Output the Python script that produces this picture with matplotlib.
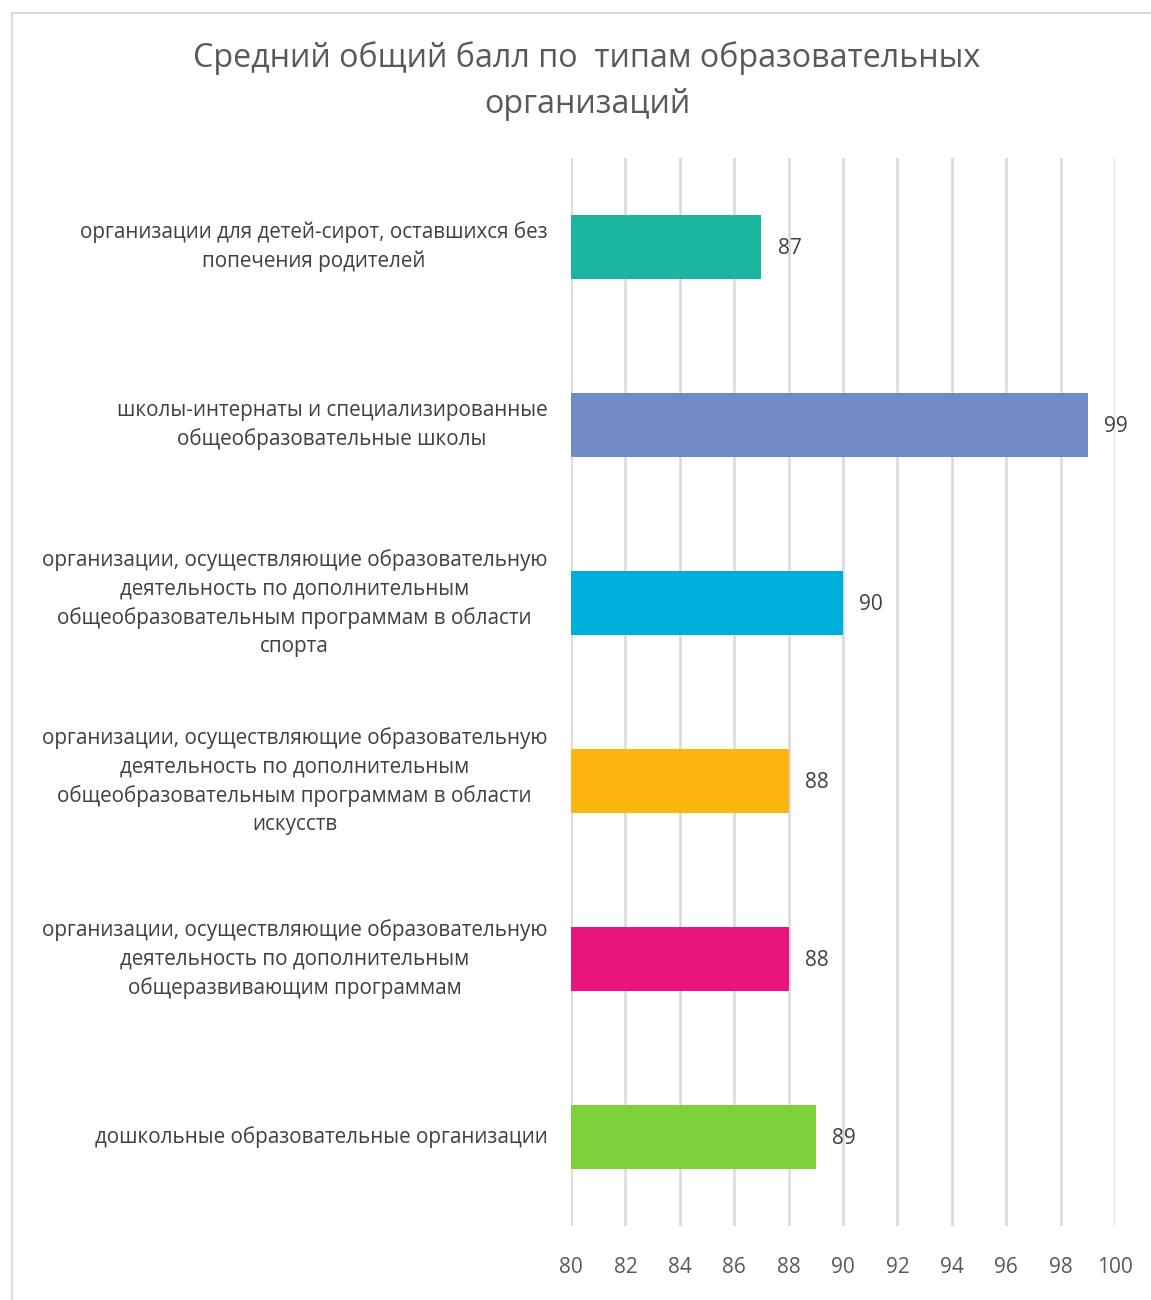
import matplotlib
matplotlib.use("Agg")
import matplotlib.pyplot as plt
from matplotlib.lines import Line2D

plt.rcParams["font.family"] = ["Open Sans", "DejaVu Sans"]

categories = [
    "организации для детей-сирот, оставшихся без\nпопечения родителей",
    "школы-интернаты и специализированные\nобщеобразовательные школы",
    "организации, осуществляющие образовательную\nдеятельность по дополнительным\n"
    "общеобразовательным программам в области\nспорта",
    "организации, осуществляющие образовательную\nдеятельность по дополнительным\n"
    "общеобразовательным программам в области\nискусств",
    "организации, осуществляющие образовательную\nдеятельность по дополнительным\n"
    "общеразвивающим программам",
    "дошкольные образовательные организации",
]
scores = [87, 99, 90, 88, 88, 89]
colors = ["#1BB5A0", "#738AC8", "#00AEDB", "#FDB60F", "#E8157A", "#7FD13B"]
xticks = list(range(80, 101, 2))

fig = plt.figure(figsize=(11.51, 13.0), dpi=100)
ax = fig.add_axes([571 / 1151, 1 - 1226 / 1300, 544 / 1151, 1068 / 1300])

ypos = list(range(len(categories)))
ax.barh(ypos, [s - 80 for s in scores], left=80, height=0.36, color=colors, zorder=3)
for y, s in zip(ypos, scores):
    ax.text(s + 0.6, y + 0.01, f"{s}", va="center", ha="left", fontsize=15, color="#404040")

ax.set_xlim(80, 100)
ax.set_ylim(len(categories) - 0.5, -0.5)
ax.set_xticks(xticks)
ax.set_xticklabels([str(t) for t in xticks], fontsize=15, color="#595959")
ax.set_yticks(ypos)
ax.set_yticklabels(categories, fontsize=14.9, color="#404040", va="center",
                   multialignment="center", linespacing=1.46)
ax.tick_params(axis="x", length=0, pad=22)
ax.tick_params(axis="y", length=0, pad=17)
ax.grid(axis="x", color="#D9D9D9", linewidth=1.8, zorder=0)
for sp in ax.spines.values():
    sp.set_visible(False)

fig.text(587 / 1151, 1 - 81 / 1300,
         "Средний общий балл по  типам образовательных\nорганизаций",
         ha="center", va="center", fontsize=23.2, color="#595959", linespacing=1.52)

# chart border
fig.add_artist(Line2D([12 / 1151, 1], [1 - 13 / 1300] * 2, color="#D9D9D9", lw=1.5))
fig.add_artist(Line2D([12 / 1151] * 2, [0, 1 - 13 / 1300], color="#D9D9D9", lw=1.5))

fig.savefig("out.png", dpi=100)
